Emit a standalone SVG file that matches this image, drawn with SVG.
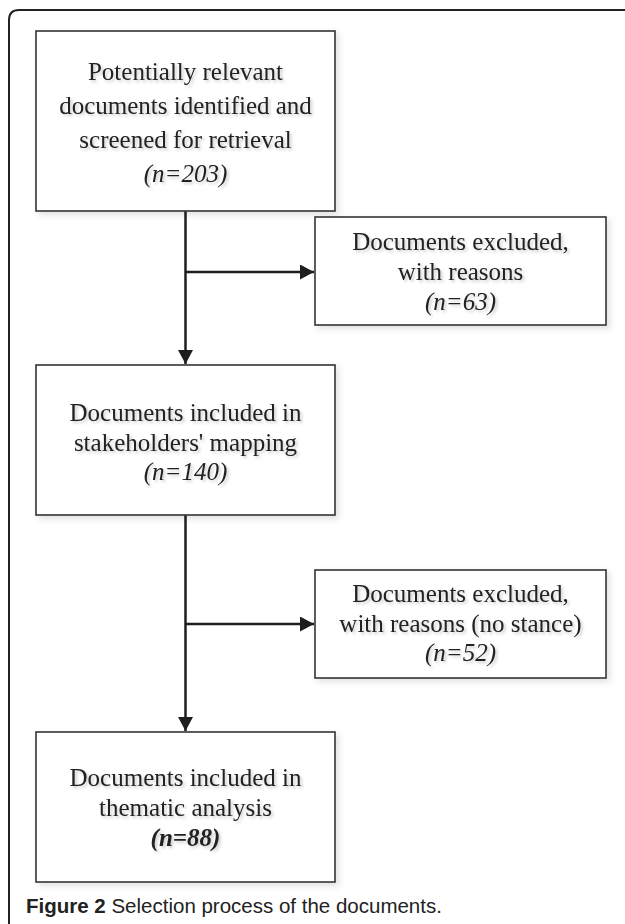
<svg xmlns="http://www.w3.org/2000/svg" width="625" height="924" viewBox="0 0 625 924">
<style>
.box{fill:#fff;stroke:#333;stroke-width:1.6}
.t{font-family:"Liberation Serif","Times New Roman",serif;font-size:25px;fill:#222;text-anchor:middle}
.n{font-style:italic}
.b{font-weight:bold;font-style:italic}
.c{stroke:#1e1e1e;stroke-width:2.5;fill:none}
.frame{stroke:#222;stroke-width:2;fill:none}
.cap{font-family:"Liberation Sans","Arial",sans-serif;font-size:20.5px;fill:#222}
</style>
<defs>
<filter id="sh" x="-10%" y="-10%" width="130%" height="130%">
<feDropShadow dx="3" dy="3" stdDeviation="3" flood-color="#000" flood-opacity="0.12"/>
</filter>
<filter id="ts" x="-5%" y="-20%" width="115%" height="160%">
<feDropShadow dx="2" dy="2" stdDeviation="1.5" flood-color="#000" flood-opacity="0.2"/>
</filter>
<marker id="ah" markerWidth="6" markerHeight="6" refX="5.6" refY="3" orient="auto" markerUnits="strokeWidth">
<path d="M0,0 L5.6,3 L0,6 z" fill="#1e1e1e"/>
</marker>
</defs>
<path class="frame" d="M9,924 L9,20 Q9,10 19,10 L625,10"/>
<g id="connectors">
<line class="c" x1="185.5" y1="211" x2="185.5" y2="364" marker-end="url(#ah)"/>
<line class="c" x1="185.5" y1="272" x2="314" y2="272" marker-end="url(#ah)"/>
<line class="c" x1="185.5" y1="515" x2="185.5" y2="731" marker-end="url(#ah)"/>
<line class="c" x1="185.5" y1="624" x2="314" y2="624" marker-end="url(#ah)"/>
</g>
<g id="n1">
<rect class="box" filter="url(#sh)" x="36" y="31" width="299" height="180"/>
<g filter="url(#ts)">
<text class="t" x="185.5" y="80">Potentially relevant</text>
<text class="t" x="185.5" y="114">documents identified and</text>
<text class="t" x="185.5" y="148">screened for retrieval</text>
<text class="t n" x="185.5" y="182">(n=203)</text>
</g>
</g>
<g id="n2">
<rect class="box" filter="url(#sh)" x="315" y="217" width="291" height="108"/>
<g filter="url(#ts)">
<text class="t" x="460.5" y="250">Documents excluded,</text>
<text class="t" x="460.5" y="280">with reasons</text>
<text class="t n" x="460.5" y="310">(n=63)</text>
</g>
</g>
<g id="n3">
<rect class="box" filter="url(#sh)" x="36" y="365" width="299" height="150"/>
<g filter="url(#ts)">
<text class="t" x="185.5" y="421">Documents included in</text>
<text class="t" x="185.5" y="451">stakeholders' mapping</text>
<text class="t n" x="185.5" y="480">(n=140)</text>
</g>
</g>
<g id="n4">
<rect class="box" filter="url(#sh)" x="315" y="570" width="291" height="108"/>
<g filter="url(#ts)">
<text class="t" x="460.5" y="602">Documents excluded,</text>
<text class="t" x="460.5" y="632">with reasons (no stance)</text>
<text class="t n" x="460.5" y="661">(n=52)</text>
</g>
</g>
<g id="n5">
<rect class="box" filter="url(#sh)" x="36" y="732" width="299" height="150"/>
<g filter="url(#ts)">
<text class="t" x="185.5" y="786">Documents included in</text>
<text class="t" x="185.5" y="816">thematic analysis</text>
<text class="t b" x="185.5" y="846">(n=88)</text>
</g>
</g>
<text class="cap" x="26" y="913"><tspan font-weight="bold">Figure 2</tspan> Selection process of the documents.</text>
</svg>
